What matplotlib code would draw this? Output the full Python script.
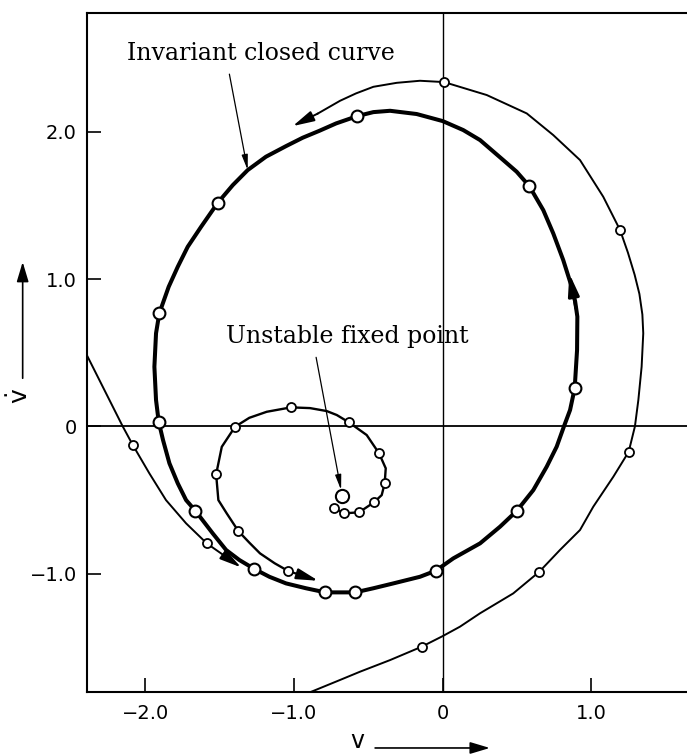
import matplotlib
matplotlib.use('Agg')
import matplotlib.pyplot as plt

# invariant closed curve (traced counterclockwise, starting at the bottom)
closed_v = [-0.589, -0.466, -0.332, -0.153, -0.047, 0.071, 0.251, 0.385, 0.497, 0.609,
            0.699, 0.766, 0.815, 0.856, 0.887, 0.903, 0.905, 0.89, 0.867, 0.810,
            0.743, 0.676, 0.582, 0.497, 0.407, 0.251, 0.138, 0.0, -0.175, -0.354,
            -0.466, -0.574, -0.717, -0.829, -0.941, -1.053, -1.188, -1.311, -1.411, -1.512,
            -1.624, -1.714, -1.781, -1.842, -1.905, -1.927, -1.938, -1.927, -1.909, -1.880,
            -1.837, -1.781, -1.725, -1.663, -1.546, -1.456, -1.367, -1.266, -1.165, -1.053,
            -0.919, -0.789, -0.589]
closed_vdot = [-1.128, -1.100, -1.067, -1.022, -0.981, -0.897, -0.795, -0.682, -0.575, -0.433,
               -0.274, -0.138, 0.0, 0.111, 0.258, 0.518, 0.745, 0.85, 0.948, 1.130,
               1.311, 1.469, 1.632, 1.730, 1.809, 1.945, 2.013, 2.074, 2.122, 2.144,
               2.135, 2.108, 2.058, 2.008, 1.961, 1.904, 1.832, 1.741, 1.639, 1.519,
               1.356, 1.220, 1.084, 0.948, 0.768, 0.632, 0.405, 0.179, 0.031, -0.093,
               -0.251, -0.387, -0.501, -0.573, -0.727, -0.840, -0.908, -0.969, -1.022, -1.067,
               -1.100, -1.128, -1.128]
# iterates lying on the closed curve
closed_pts_v = [-0.589, -0.047, 0.497, 0.887, 0.582, -0.574, -1.512, -1.905, -1.909, -1.663, -1.266, -0.789]
closed_pts_vdot = [-1.128, -0.981, -0.575, 0.258, 1.632, 2.108, 1.519, 0.768, 0.031, -0.573, -0.969, -1.128]

# outer trajectory, right-hand branch (from the bottom up and over the top)
outer_v = [-0.90, -0.690, -0.556, -0.354, -0.141, 0.0, 0.116, 0.251, 0.474, 0.649,
           0.788, 0.923, 1.012, 1.147, 1.25, 1.292, 1.315, 1.337, 1.348, 1.342,
           1.322, 1.290, 1.245, 1.192, 1.079, 0.923, 0.743, 0.565, 0.296, 0.009,
           -0.153, -0.309, -0.466, -0.583, -0.690, -0.84]
outer_vdot = [-1.81, -1.723, -1.667, -1.588, -1.497, -1.425, -1.361, -1.270, -1.135, -0.988,
              -0.840, -0.704, -0.546, -0.342, -0.173, 0.0, 0.179, 0.405, 0.632, 0.76,
              0.90, 1.03, 1.18, 1.334, 1.560, 1.809, 1.979, 2.126, 2.251, 2.339,
              2.348, 2.334, 2.307, 2.262, 2.212, 2.125]
outer_pts_v = [-0.141, 0.649, 1.25, 1.192, 0.009]
outer_pts_vdot = [-1.497, -0.988, -0.173, 1.334, 2.339]

# outer trajectory, left-hand branch
left_v = [-2.40, -2.285, -2.151, -2.083, -1.972, -1.860, -1.725, -1.586]
left_vdot = [0.50, 0.269, 0.0, -0.127, -0.319, -0.501, -0.659, -0.795]
left_pts_v = [-2.083, -1.586]
left_pts_vdot = [-0.127, -0.795]

# spiral leaving the unstable fixed point
spiral_v = [-0.731, -0.661, -0.562, -0.462, -0.410, -0.390, -0.383, -0.428, -0.511, -0.630,
            -0.712, -0.780, -0.892, -1.020, -1.183, -1.30, -1.396, -1.485, -1.523, -1.508,
            -1.452, -1.374, -1.30, -1.228, -1.13, -1.038]
spiral_vdot = [-0.557, -0.591, -0.584, -0.516, -0.467, -0.387, -0.285, -0.183, -0.059, 0.027,
               0.077, 0.104, 0.124, 0.129, 0.099, 0.058, -0.003, -0.139, -0.326, -0.501,
               -0.591, -0.711, -0.79, -0.863, -0.93, -0.983]
spiral_pts_v = [-0.731, -0.661, -0.562, -0.462, -0.390, -0.428, -0.630, -1.020, -1.396, -1.523, -1.374, -1.038]
spiral_pts_vdot = [-0.557, -0.591, -0.584, -0.516, -0.387, -0.183, 0.027, 0.129, -0.003, -0.326, -0.711, -0.983]
fixed_v, fixed_vdot = -0.677, -0.474

# flow arrows: (tail, head, line width)
flow_arrows = [((0.896, 0.80), (0.851, 1.039), 2.2),
               ((-0.84, 2.125), (-1.008, 2.040), 1.4),
               ((-1.586, -0.795), (-1.356, -0.958), 1.4),
               ((-1.038, -0.983), (-0.836, -1.049), 1.6)]

xticks = [-2.0, -1.0, 0.0, 1.0]
xticklabels = ['\u22122.0', '\u22121.0', '0', '1.0']
yticks = [-1.0, 0.0, 1.0, 2.0]
yticklabels = ['\u22121.0', '0', '1.0', '2.0']

fig = plt.figure(figsize=(6.87, 7.55), dpi=100)
ax = fig.add_axes([0.1262, 0.0838, 0.8738, 0.8993])
ax.set_xlim(-2.393, 1.642)
ax.set_ylim(-1.803, 2.810)

ax.axhline(0, color='k', lw=1.3, zorder=1)
ax.axvline(0, color='k', lw=1.0, zorder=1)

ax.plot(closed_v, closed_vdot, color='k', lw=2.9, zorder=3, solid_joinstyle='round')
ax.plot(outer_v, outer_vdot, color='k', lw=1.4, zorder=3, solid_joinstyle='round')
ax.plot(left_v, left_vdot, color='k', lw=1.4, zorder=3, solid_joinstyle='round')
ax.plot(spiral_v, spiral_vdot, color='k', lw=1.7, zorder=3, solid_joinstyle='round')

mk = dict(linestyle='none', marker='o', mfc='white', mec='k', zorder=5)
ax.plot(closed_pts_v, closed_pts_vdot, ms=8.5, mew=1.5, **mk)
ax.plot(outer_pts_v, outer_pts_vdot, ms=6.5, mew=1.3, **mk)
ax.plot(left_pts_v, left_pts_vdot, ms=6.5, mew=1.3, **mk)
ax.plot(spiral_pts_v, spiral_pts_vdot, ms=6.5, mew=1.3, **mk)
ax.plot([fixed_v], [fixed_vdot], ms=9.5, mew=1.5, **mk)

for tail, head, w in flow_arrows:
    ax.annotate('', xy=head, xytext=tail,
                arrowprops=dict(arrowstyle='-|>,head_length=1.0,head_width=0.25',
                                mutation_scale=13, color='k', lw=w,
                                shrinkA=0, shrinkB=0), zorder=4)

# labels with pointers
pointer = dict(arrowstyle='-|>,head_length=0.9,head_width=0.18',
               mutation_scale=10, color='k', lw=0.9, shrinkA=0, shrinkB=0)
ax.text(-1.221, 2.536, 'Invariant closed curve', ha='center', va='center',
        family='DejaVu Serif', fontsize=17)
ax.annotate('', xy=(-1.311, 1.741), xytext=(-1.434, 2.393), arrowprops=pointer)
ax.text(-0.643, 0.608, 'Unstable fixed point', ha='center', va='center',
        family='DejaVu Serif', fontsize=17)
ax.annotate('', xy=(-0.683, -0.433), xytext=(-0.851, 0.469), arrowprops=pointer)

ax.set_xticks(xticks)
ax.set_xticklabels(xticklabels)
ax.set_yticks(yticks)
ax.set_yticklabels(yticklabels)
ax.tick_params(direction='in', length=10, width=1.2, labelsize=14, colors='k')
ax.tick_params(axis='x', pad=9)
ax.tick_params(axis='y', pad=7)

ax.spines['right'].set_visible(False)
for s in ['left', 'bottom', 'top']:
    ax.spines[s].set_linewidth(1.5)

# axis names with arrows
axis_arrow = dict(arrowstyle='-|>,head_length=1.0,head_width=0.3',
                  mutation_scale=12, color='k', lw=1.2, shrinkA=0, shrinkB=0)
fig.text(0.029, 0.475, r'$\mathsf{\dot{v}}$', rotation=90, fontsize=18, ha='center', va='center')
ax.annotate('', xy=(0.033, 0.653), xytext=(0.033, 0.499), xycoords='figure fraction',
            textcoords='figure fraction', annotation_clip=False, arrowprops=axis_arrow)
fig.text(0.520, 0.002, 'v', fontsize=17, ha='center', va='bottom')
ax.annotate('', xy=(0.713, 0.0093), xytext=(0.546, 0.0093), xycoords='figure fraction',
            textcoords='figure fraction', annotation_clip=False, arrowprops=axis_arrow)

fig.savefig('out.png', dpi=100)
